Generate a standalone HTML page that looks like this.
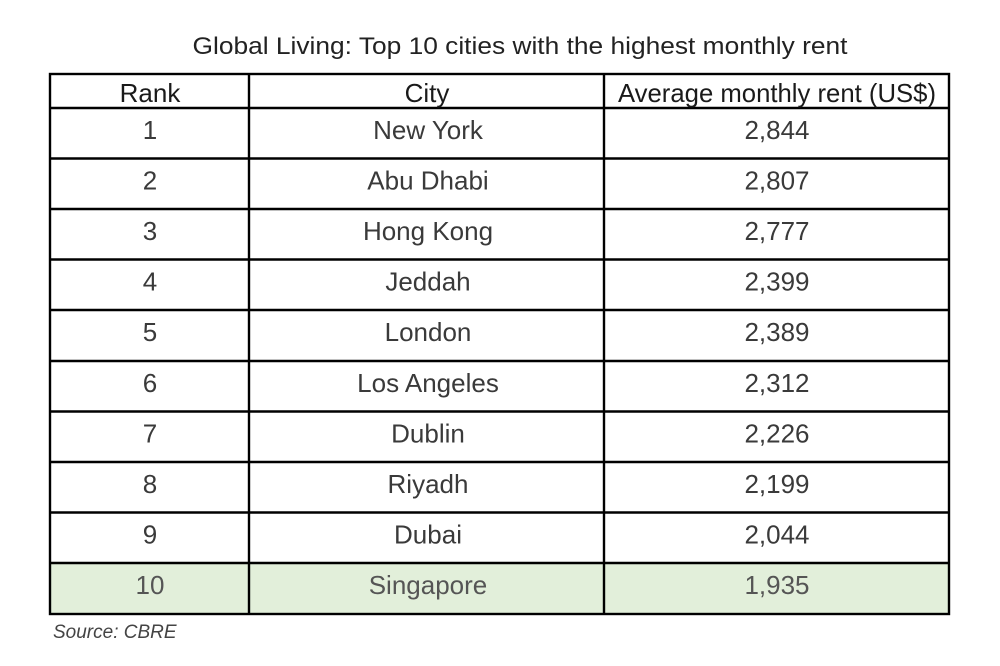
<!DOCTYPE html>
<html><head><meta charset="utf-8"><style>
html,body{margin:0;padding:0;background:#fff;}
svg{display:block;font-family:"Liberation Sans",sans-serif;}
</style></head><body>
<svg width="1000" height="666" viewBox="0 0 1000 666" xmlns="http://www.w3.org/2000/svg">
<rect x="0" y="0" width="1000" height="666" fill="#fff"/>
<text x="520" y="54" font-size="24" fill="#222" text-anchor="middle" textLength="655" lengthAdjust="spacingAndGlyphs">Global Living: Top 10 cities with the highest monthly rent</text>
<rect x="50" y="563" width="900" height="51" fill="#e2efda"/>
<g stroke="#000" stroke-width="2.4" fill="none">
<rect x="50" y="74" width="899" height="540"/>
<line x1="249" y1="74" x2="249" y2="614"/>
<line x1="604" y1="74" x2="604" y2="614"/>
<line x1="50" y1="108" x2="949" y2="108"/>
<line x1="50" y1="158.5" x2="949" y2="158.5"/>
<line x1="50" y1="209" x2="949" y2="209"/>
<line x1="50" y1="259.5" x2="949" y2="259.5"/>
<line x1="50" y1="310" x2="949" y2="310"/>
<line x1="50" y1="361" x2="949" y2="361"/>
<line x1="50" y1="411.5" x2="949" y2="411.5"/>
<line x1="50" y1="462" x2="949" y2="462"/>
<line x1="50" y1="512.5" x2="949" y2="512.5"/>
<line x1="50" y1="563" x2="949" y2="563"/>
</g>
<g font-size="26" text-anchor="middle" fill="#1a1a1a">
<text x="150" y="102">Rank</text>
<text x="427" y="102">City</text>
<text x="777" y="102" textLength="318" lengthAdjust="spacingAndGlyphs">Average monthly rent (US$)</text>
</g>
<g font-size="26" text-anchor="middle" fill="#3a3a3a">
<text x="150" y="139">1</text><text x="428" y="139">New York</text><text x="777" y="139">2,844</text>
<text x="150" y="189.5">2</text><text x="428" y="189.5">Abu Dhabi</text><text x="777" y="189.5">2,807</text>
<text x="150" y="240">3</text><text x="428" y="240">Hong Kong</text><text x="777" y="240">2,777</text>
<text x="150" y="290.5">4</text><text x="428" y="290.5">Jeddah</text><text x="777" y="290.5">2,399</text>
<text x="150" y="341">5</text><text x="428" y="341">London</text><text x="777" y="341">2,389</text>
<text x="150" y="392">6</text><text x="428" y="392">Los Angeles</text><text x="777" y="392">2,312</text>
<text x="150" y="442.5">7</text><text x="428" y="442.5">Dublin</text><text x="777" y="442.5">2,226</text>
<text x="150" y="493">8</text><text x="428" y="493">Riyadh</text><text x="777" y="493">2,199</text>
<text x="150" y="543.5">9</text><text x="428" y="543.5">Dubai</text><text x="777" y="543.5">2,044</text>
<text x="150" y="594" fill="#555">10</text><text x="428" y="594" fill="#555">Singapore</text><text x="777" y="594" fill="#555">1,935</text>
</g>
<text x="53" y="638" font-size="19" font-style="italic" fill="#444">Source: CBRE</text>
</svg>
</body></html>
